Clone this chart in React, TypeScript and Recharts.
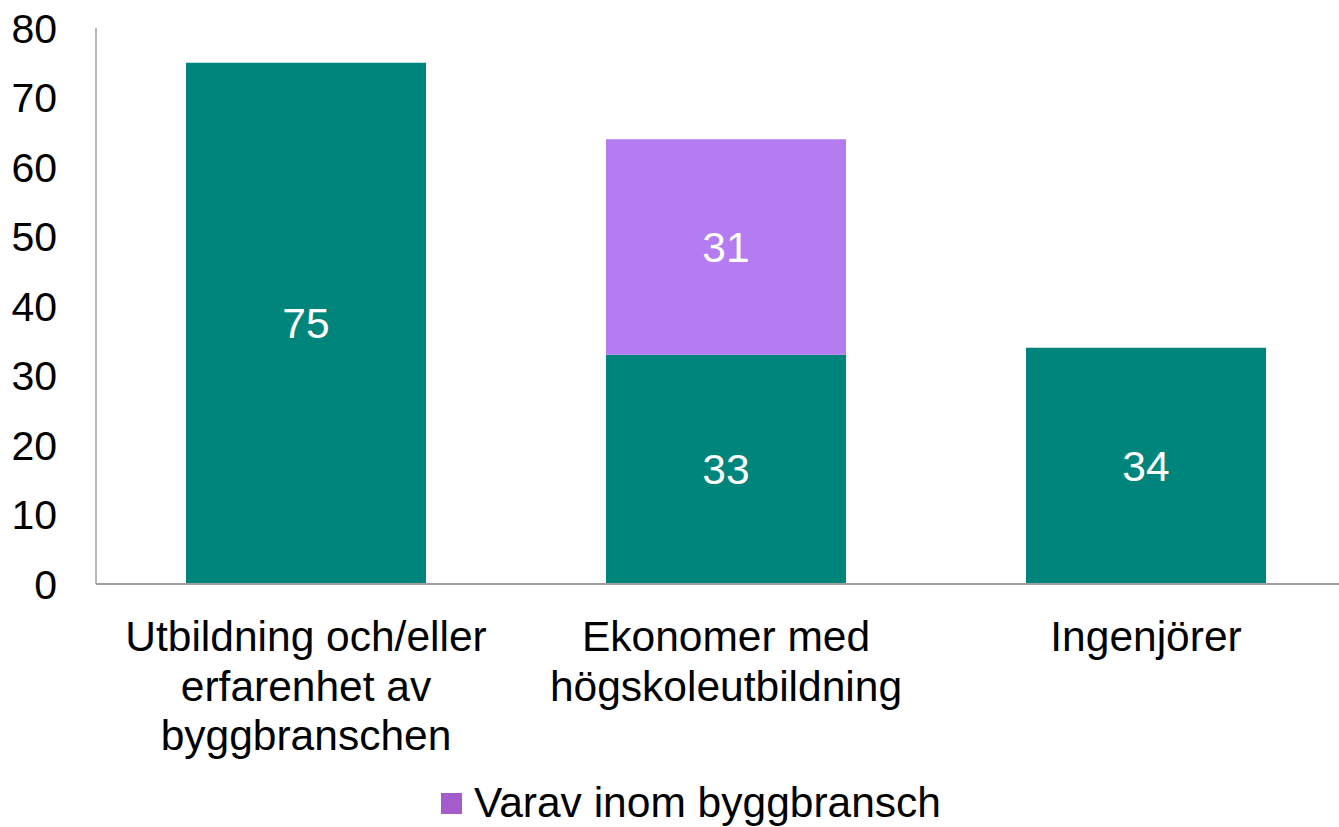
import React from 'react';
import { BarChart, Bar, XAxis, YAxis, LabelList, Legend } from 'recharts';

const categories = ['Utbildning och/eller\nerfarenhet av\nbyggbranschen', 'Ekonomer med\nhögskoleutbildning', 'Ingenjörer'];
const totalValues = [75, 33, 34];
const byggValues: (number | null)[] = [null, 31, null];
const yTicks = [0, 10, 20, 30, 40, 50, 60, 70, 80];

const data = categories.map((c, i) => ({ name: c, total: totalValues[i], bygg: byggValues[i] }));

const FONT = '"Liberation Sans", Arial, sans-serif';
const TEAL = '#00857C';
const PURPLE = '#B57BF0';
const LEGEND_PURPLE = '#A45BCB';

const XTick = (props: any) => {
  const { x, y, payload } = props;
  const lines = String(payload.value).split('\n');
  return (
    <text x={x} y={y} textAnchor="middle" fontFamily={FONT} fontSize={42.5} fill="#000">
      {lines.map((l, i) => (
        <tspan key={i} x={x} dy={i === 0 ? 67 : 49.5}>{l}</tspan>
      ))}
    </text>
  );
};

const LegendContent = () => (
  <div style={{ display: 'flex', alignItems: 'center', fontFamily: FONT, fontSize: 42.5, color: '#000', whiteSpace: 'nowrap' }}>
    <span style={{ display: 'inline-block', width: 21, height: 21, background: LEGEND_PURPLE, marginRight: 12 }} />
    <span>Varav inom byggbransch</span>
  </div>
);

export default function App() {
  return (
    <div style={{ position: 'absolute', left: 0, top: 0, width: 1339, height: 827, background: '#fff' }}>
      <BarChart width={1339} height={827} data={data} margin={{ top: 28, right: -17, bottom: 93, left: 0 }} barSize={240}>
        <XAxis
          dataKey="name"
          interval={0}
          height={150}
          tickLine={false}
          tickSize={0}
          tickMargin={0}
          axisLine={{ stroke: '#A0A0A0', strokeWidth: 2 }}
          tick={<XTick />}
        />
        <YAxis
          domain={[0, 80]}
          ticks={yTicks}
          width={96}
          tickLine={false}
          tickSize={0}
          tickMargin={39}
          axisLine={{ stroke: '#A0A0A0', strokeWidth: 1.5 }}
          tick={{ fontFamily: FONT, fontSize: 41, fill: '#000' }}
          interval={0}
        />
        <Legend
          layout="horizontal"
          verticalAlign="middle"
          align="center"
          wrapperStyle={{ left: 441, top: 779, width: 'auto' }}
          content={<LegendContent />}
        />
        <Bar dataKey="total" name="Totalt" stackId="a" fill={TEAL} legendType="none" isAnimationActive={false}>
          <LabelList dataKey="total" position="center" fill="#fff" fontFamily={FONT} fontSize={42.5} />
        </Bar>
        <Bar dataKey="bygg" name="Varav inom byggbransch" stackId="a" fill={PURPLE} isAnimationActive={false}>
          <LabelList dataKey="bygg" position="center" fill="#fff" fontFamily={FONT} fontSize={42.5} formatter={(v: any) => (v ? v : '')} />
        </Bar>
      </BarChart>
    </div>
  );
}
